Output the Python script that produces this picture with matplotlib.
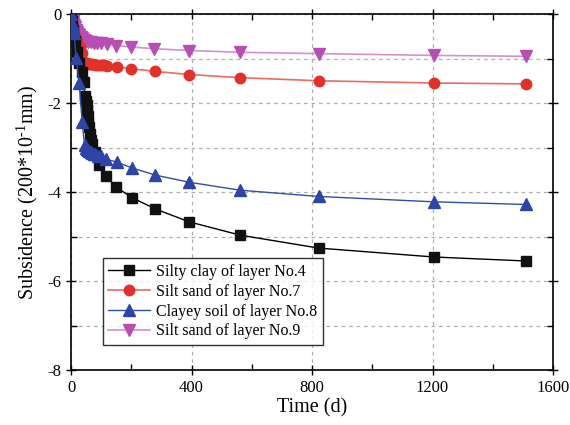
import matplotlib
matplotlib.use("Agg")
import matplotlib.pyplot as plt
from matplotlib.ticker import MultipleLocator

plt.rcParams['font.family'] = ['Liberation Serif', 'DejaVu Serif']
plt.rcParams['mathtext.fontset'] = 'custom'
plt.rcParams['mathtext.rm'] = 'Liberation Serif'
plt.rcParams['mathtext.it'] = 'Liberation Serif:italic'
plt.rcParams['axes.unicode_minus'] = False

# Settlement records, time in days, subsidence in units of 200*10^-1 mm
t_no4 = [0, 3, 7, 14, 21, 28, 35, 42, 46, 49, 52, 54, 56, 58, 60, 63, 66, 70,
         80, 93, 116, 150, 203, 280, 392, 562, 822, 1204, 1510]
s_no4 = [0, -0.15, -0.35, -0.6, -0.85, -1.1, -1.3, -1.53, -1.85, -1.95, -2.05,
         -2.15, -2.3, -2.45, -2.55, -2.7, -2.82, -2.92, -3.1, -3.39, -3.64,
         -3.89, -4.13, -4.38, -4.67, -4.97, -5.26, -5.46, -5.55]

t_no7 = [0, 3, 7, 14, 21, 30, 37, 42, 47, 52, 57, 62, 67, 72, 80, 90, 100, 110,
         120, 153, 200, 280, 393, 562, 822, 1204, 1510]
s_no7 = [0, -0.2, -0.35, -0.5, -0.6, -0.75, -0.88, -1.08, -1.1, -1.11, -1.12,
         -1.12, -1.13, -1.13, -1.14, -1.14, -1.15, -1.15, -1.16, -1.18, -1.23,
         -1.29, -1.36, -1.43, -1.50, -1.55, -1.57]

t_no8 = [0, 3, 7, 10, 17, 27, 37, 45, 50, 53, 56, 60, 65, 70, 75, 80, 90, 100,
         116, 153, 203, 280, 392, 562, 822, 1204, 1510]
s_no8 = [0, -0.2, -0.3, -0.43, -0.99, -1.55, -2.43, -2.95, -3.0, -3.03, -3.06,
         -3.08, -3.1, -3.12, -3.14, -3.15, -3.18, -3.2, -3.26, -3.33, -3.46,
         -3.62, -3.78, -3.96, -4.1, -4.22, -4.28]

t_no9 = [0, 2, 4, 6, 8, 10, 13, 16, 20, 24, 28, 33, 38, 44, 50, 57, 65, 75, 85,
         100, 119, 150, 200, 277, 393, 562, 822, 1204, 1510]
s_no9 = [0, -0.05, -0.1, -0.15, -0.2, -0.25, -0.3, -0.35, -0.4, -0.44, -0.48,
         -0.52, -0.55, -0.58, -0.6, -0.62, -0.63, -0.64, -0.65, -0.66, -0.68,
         -0.71, -0.74, -0.78, -0.82, -0.86, -0.89, -0.93, -0.95]

labels = ["Silty clay of layer No.4", "Silt sand of layer No.7",
          "Clayey soil of layer No.8", "Silt sand of layer No.9"]

fig = plt.figure(figsize=(5.7, 4.25), dpi=100)
ax = fig.add_axes([0.1246, 0.1294, 0.8456, 0.8376])

ax.plot(t_no4, s_no4, color='black', lw=1.0, marker='s', ms=6.5,
        mfc='#111111', mec='#111111', label=labels[0], zorder=5)
ax.plot(t_no7, s_no7, color='#ee6a5a', lw=1.2, marker='o', ms=7.5,
        mfc='#e2302a', mec='#e2302a', label=labels[1], zorder=4)
ax.plot(t_no8, s_no8, color='#3050a8', lw=1.0, marker='^', ms=8,
        mfc='#2e44a6', mec='#2e44a6', label=labels[2], zorder=6)
ax.plot(t_no9, s_no9, color='#d68fd6', lw=1.2, marker='v', ms=8,
        mfc='#b84db4', mec='#b84db4', label=labels[3], zorder=3)

ax.set_xlim(0, 1600)
ax.set_ylim(-8, 0)
ax.xaxis.set_major_locator(MultipleLocator(400))
ax.xaxis.set_minor_locator(MultipleLocator(200))
ax.yaxis.set_major_locator(MultipleLocator(2))
ax.yaxis.set_minor_locator(MultipleLocator(1))

ax.grid(True, which='major', axis='x', ls=(0, (3, 3)), color='#b0b0b0', lw=0.9)
ax.grid(True, which='both', axis='y', ls=(0, (3, 3)), color='#b0b0b0', lw=0.9)

ax.tick_params(which='major', direction='inout', length=7, width=1.0,
               top=True, right=True, labelsize=12)
ax.tick_params(which='minor', direction='in', length=4, width=1.0,
               top=True, right=True)
for sp in ax.spines.values():
    sp.set_linewidth(1.2)

ax.set_xlabel("Time (d)", fontsize=14.5, labelpad=2)
ax.set_ylabel(r"Subsidence (200*10$^{\text{-1}}$mm)", fontsize=14.5, labelpad=5)

leg = ax.legend(loc='lower left', bbox_to_anchor=(0.066, 0.07),
                borderaxespad=0, fontsize=11.5, frameon=True, fancybox=False,
                edgecolor='black', handlelength=2.6, handletextpad=0.4,
                labelspacing=0.25, borderpad=0.35)
leg.get_frame().set_linewidth(1.0)

fig.savefig("out.png", dpi=100)
